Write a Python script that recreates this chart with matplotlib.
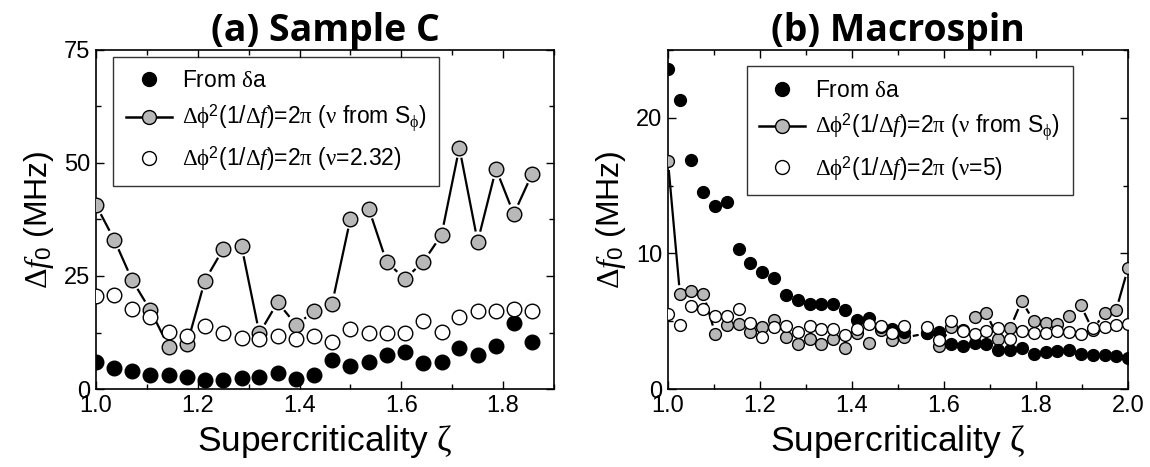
import matplotlib
matplotlib.use("Agg")
import matplotlib.pyplot as plt
import numpy as np
from matplotlib.ticker import MultipleLocator

plt.rcParams['font.family'] = ['Liberation Sans', 'DejaVu Sans']
plt.rcParams['mathtext.fontset'] = 'custom'
plt.rcParams['mathtext.rm'] = 'Liberation Sans'
plt.rcParams['mathtext.it'] = 'Liberation Serif:italic'
plt.rcParams['mathtext.sf'] = 'Liberation Serif'
plt.rcParams['mathtext.bf'] = 'Liberation Sans:bold'

# ---- (a) Sample C ----
zeta_a = [1.000, 1.036, 1.071, 1.107, 1.143, 1.179, 1.214, 1.250, 1.286,
          1.321, 1.357, 1.393, 1.429, 1.464, 1.500, 1.536, 1.571, 1.607,
          1.643, 1.679, 1.714, 1.750, 1.786, 1.821, 1.857]
da_a = [6.0, 4.7, 4.0, 3.2, 3.0, 2.6, 1.9, 2.1, 2.4, 2.6, 3.6, 2.2, 3.0,
        6.5, 5.1, 6.0, 7.6, 8.2, 5.8, 6.0, 9.0, 7.6, 9.5, 14.6, 10.3]
sphi_a = [40.7, 33.0, 24.1, 17.4, 9.3, 9.9, 24.0, 31.0, 31.6, 12.3, 19.2,
          14.2, 17.2, 18.9, 37.7, 39.9, 28.1, 24.4, 28.1, 34.1, 53.4, 32.6,
          48.7, 38.7, 47.6]
nu_a = [20.5, 20.7, 17.8, 15.9, 12.7, 11.8, 14.0, 12.5, 11.3, 11.0, 11.8,
        11.0, 11.7, 10.3, 13.2, 12.5, 12.5, 12.5, 15.1, 12.7, 15.9, 17.3,
        17.2, 17.7, 17.2]

# ---- (b) Macrospin ----
zeta_b = [1.000, 1.026, 1.051, 1.077, 1.103, 1.128, 1.154, 1.179, 1.205,
          1.231, 1.256, 1.282, 1.308, 1.333, 1.359, 1.385, 1.410, 1.436,
          1.462, 1.487, 1.513, 1.564, 1.590, 1.615, 1.641, 1.667, 1.692,
          1.718, 1.744, 1.769, 1.795, 1.821, 1.846, 1.872, 1.897, 1.923,
          1.949, 1.974, 2.000]
da_b = [23.6, 21.3, 16.9, 14.5, 13.5, 13.8, 10.3, 9.3, 8.6, 8.2, 6.9, 6.6,
        6.3, 6.3, 6.3, 5.8, 5.1, 5.2, 4.6, 4.4, 4.2, 4.1, 4.2, 3.3, 3.2,
        3.4, 3.3, 2.9, 2.9, 3.0, 2.6, 2.7, 2.8, 2.9, 2.6, 2.5, 2.5, 2.4, 2.3]
sphi_b = [16.8, 7.0, 7.2, 7.0, 4.05, 4.7, 4.8, 4.2, 4.6, 5.1, 3.85, 3.3,
          3.7, 3.3, 3.7, 3.0, 4.1, 3.4, 4.35, 3.6, 3.8, 4.1, 3.2, 4.6, 4.35,
          5.3, 5.6, 3.7, 4.5, 6.5, 5.0, 4.9, 4.8, 5.4, 6.2, 4.35, 5.6, 5.8,
          8.9]
nu_b = [5.5, 4.7, 6.1, 5.9, 5.4, 5.35, 5.9, 4.9, 3.85, 4.55, 4.65, 4.2,
        4.65, 4.4, 4.4, 4.0, 4.4, 4.8, 4.65, 4.1, 4.65, 4.6, 3.65, 5.0, 4.3,
        4.05, 4.3, 4.5, 3.7, 4.3, 4.1, 4.15, 4.3, 4.2, 4.05, 4.5, 4.55, 4.7,
        4.8]

lbl_da = r'From $\mathsf{\delta}$a'
lbl_sphi = (r'$\mathsf{\Delta\phi}^2(1/\mathsf{\Delta}\mathit{f})$=2$\mathsf{\pi}$'
            r' ($\mathsf{\nu}$ from S$_\mathsf{\phi}$)')
lbl_nu_a = (r'$\mathsf{\Delta\phi}^2(1/\mathsf{\Delta}\mathit{f})$=2$\mathsf{\pi}$'
            r' ($\mathsf{\nu}$=2.32)')
lbl_nu_b = (r'$\mathsf{\Delta\phi}^2(1/\mathsf{\Delta}\mathit{f})$=2$\mathsf{\pi}$'
            r' ($\mathsf{\nu}$=5)')
GRAY = '#b8b8b8'


def gap_line(ax, x, y, gap):
    """line between points that stops gap pixels short of each marker"""
    pts = ax.transData.transform(np.column_stack([x, y]))
    inv = ax.transData.inverted()
    for p, q in zip(pts[:-1], pts[1:]):
        d = q - p
        L = np.hypot(*d)
        if L <= 2 * gap + 2:
            continue
        u = d / L
        seg = inv.transform([p + u * gap, q - u * gap])
        ax.plot(seg[:, 0], seg[:, 1], color='k', lw=1.6, zorder=2,
                solid_capstyle='butt')


def panel(ax, x, da, sphi, nu, nu_lbl, ms, xlim, ylim, ymaj, title, leg_box):
    ax.set_xlim(*xlim)
    ax.set_ylim(*ylim)
    gap_line(ax, x, sphi, ms * 100 / 72 / 2 + 3)
    ax.plot(x, sphi, 'o', ms=ms, mfc=GRAY, mec='k', mew=1.0, zorder=3)
    ax.plot(x, da, 'o', ms=ms, mfc='k', mec='k', mew=1.0, zorder=4)
    ax.plot(x, nu, 'o', ms=ms, mfc='white', mec='k', mew=1.0, zorder=5)

    h1, = ax.plot([], [], 'o', ms=10, mfc='k', mec='k')
    h2, = ax.plot([], [], 'o-', ms=10, mfc=GRAY, mec='k', color='k', lw=1.8)
    h3, = ax.plot([], [], 'o', ms=10, mfc='white', mec='k')
    leg = ax.legend([h1, h2, h3], [lbl_da, lbl_sphi, nu_lbl], loc='upper left',
                    bbox_to_anchor=leg_box, fontsize=16.5, frameon=True,
                    fancybox=False, edgecolor='k', handlelength=2.0,
                    handletextpad=0.45, borderpad=0.55, labelspacing=0.45,
                    borderaxespad=0, numpoints=1)
    leg.get_frame().set_linewidth(1.0)

    ax.xaxis.set_major_locator(MultipleLocator(0.2))
    ax.xaxis.set_minor_locator(MultipleLocator(0.1))
    ax.yaxis.set_major_locator(MultipleLocator(ymaj))
    ax.yaxis.set_minor_locator(MultipleLocator(ymaj / 2))
    ax.tick_params(which='both', direction='in', top=True, right=True,
                   labelsize=17, width=1.0, pad=4)
    ax.tick_params(which='major', length=6)
    ax.tick_params(which='minor', length=3.5)
    for s in ax.spines.values():
        s.set_linewidth(1.2)
    ax.set_xlabel(r'Supercriticality $\mathsf{\zeta}$', fontsize=25.5,
                  labelpad=5)
    ax.set_ylabel(r'$\mathsf{\Delta}\mathit{f}_\mathrm{0}$ (MHz)', fontsize=23,
                  labelpad=6)
    ax.set_title(title, fontsize=27, fontweight='bold', family='Open Sans',
                 pad=3)


fig = plt.figure(figsize=(11.5, 4.67), dpi=100)
ax1 = fig.add_axes([96 / 1150, 78 / 467, 458 / 1150, 339 / 467])
ax2 = fig.add_axes([668 / 1150, 78 / 467, 460 / 1150, 339 / 467])

panel(ax1, zeta_a, da_a, sphi_a, nu_a, lbl_nu_a,
      10.5, (1.0, 1.9), (0, 75), 25, '(a) Sample C', (0.038, 0.98))
panel(ax2, zeta_b, da_b, sphi_b, nu_b, lbl_nu_b,
      8.5, (1.0, 2.0), (0, 25), 10, '(b) Macrospin', (0.171, 0.953))

fig.savefig('out.png', dpi=100)
